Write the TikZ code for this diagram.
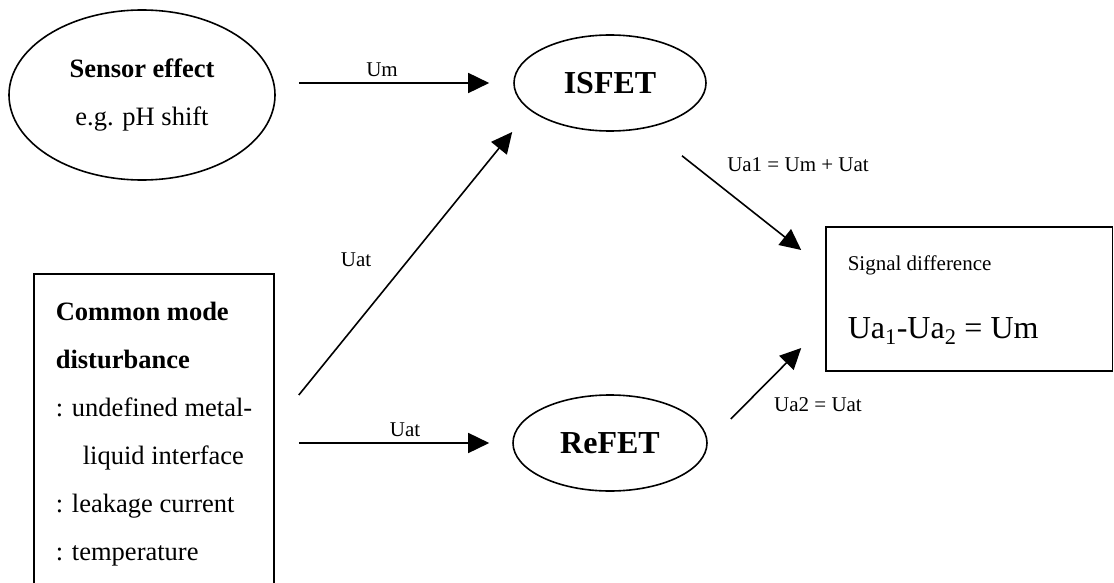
\documentclass[tikz,border=0pt]{standalone}
\usepackage{fontspec}
\setmainfont{Liberation Serif}
\usetikzlibrary{arrows.meta,shapes.geometric}
\begin{document}
\begin{tikzpicture}[x=1pt,y=-1pt,line width=1.6pt,
  bodyfont/.style={font=\fontsize{26.5}{48}\selectfont},
  bigfont/.style={font=\fontsize{32}{38}\selectfont},
  lblfont/.style={font=\fontsize{21}{25}\selectfont},
  ell/.style={draw,ellipse,inner sep=0pt},
  boxnode/.style={draw,rectangle,inner sep=0pt},
  txt/.style={inner sep=0pt,anchor=base west},
  lbl/.style={lblfont,inner sep=0pt},
  arr/.style={-{Triangle[length=21pt,width=20pt]}}]
\useasboundingbox (0,0) rectangle (1114,583);
% nodes
\node[ell,bodyfont,align=center,minimum width=266pt,minimum height=170pt] (sens) at (142,95)
  {\textbf{Sensor effect}\\e.g. pH shift};
\node[ell,bigfont,minimum width=192pt,minimum height=96pt] (isfet) at (610,83) {\textbf{ISFET}};
\node[ell,bigfont,minimum width=194pt,minimum height=96pt] (refet) at (610,443) {\textbf{ReFET}};
\node[boxnode,minimum width=240pt,minimum height=338pt] (cm) at (154,443) {};
\node[boxnode,minimum width=286.5pt,minimum height=144pt] (sig) at (969.25,299) {};
% box texts
\node[txt,bodyfont] (cm1) at (55,320) {\textbf{Common mode}};
\node[txt,bodyfont] (cm2) at (55,368) {\textbf{disturbance}};
\node[txt,bodyfont] (cm3) at (55,416) {: undefined metal-};
\node[txt,bodyfont] (cm4) at (82,464) {liquid interface};
\node[txt,bodyfont] (cm5) at (55,512) {: leakage current};
\node[txt,bodyfont] (cm6) at (55,560) {: temperature};
\node[txt,lblfont] (sig1) at (847,270) {Signal difference};
\node[txt,bigfont] (sig2) at (847,338) {Ua\textsubscript{1}-Ua\textsubscript{2} = Um};
% connectors
\draw[arr] ([shift={(23pt,12pt)}]sens.east) -- ([xshift=-24pt]isfet.west);
\draw[arr] ([shift={(24pt,48pt)}]cm.east) -- ([shift={(-1pt,-49pt)}]isfet.west);
\draw[arr] ([xshift=24pt]cm.east) -- ([xshift=-23pt]refet.west);
\draw[arr] ([shift={(72pt,-24pt)}]isfet.south) -- ([shift={(-24pt,49pt)}]sig.west);
\draw[arr] ([shift={(23pt,24pt)}]refet.east) -- ([shift={(-24pt,-49pt)}]sig.west);
% labels
\node[lbl] (lum) at (382,70) {Um};
\node[lbl] (luat1) at (356,260) {Uat};
\node[lbl] (luat2) at (405,430) {Uat};
\node[lbl] (lua1) at (798,165) {Ua1 = Um + Uat};
\node[lbl] (lua2) at (818,405) {Ua2 = Uat};
\end{tikzpicture}
\end{document}
